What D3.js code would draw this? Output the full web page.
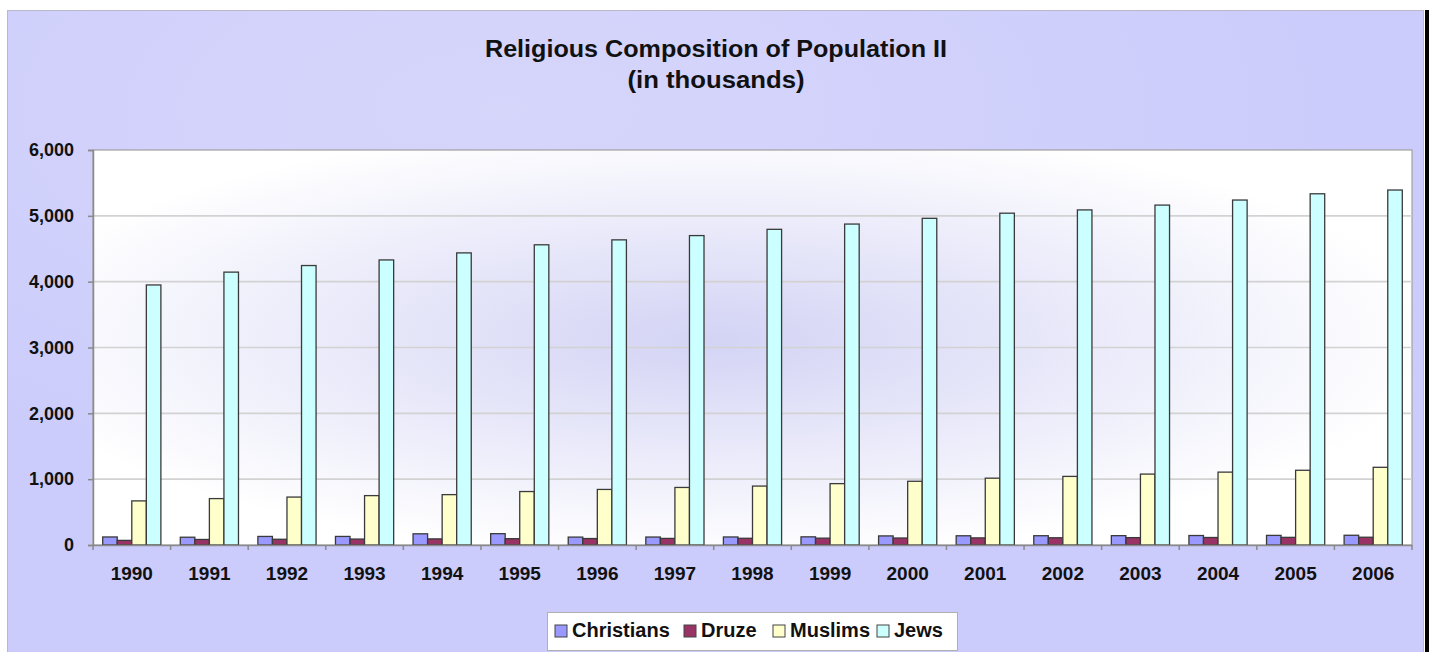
<!DOCTYPE html>
<html>
<head>
<meta charset="utf-8">
<script src="https://cdn.jsdelivr.net/npm/d3@7"></script>
<style>
html,body{margin:0;padding:0;background:#fff;}
svg{display:block;font-family:"Liberation Sans",Arial,sans-serif;}
</style>
</head>
<body>
<svg id="chart" width="1437" height="652"></svg>
<script>
const years = ["1990","1991","1992","1993","1994","1995","1996","1997","1998","1999","2000","2001","2002","2003","2004","2005","2006"];
const seriesNames = ["Christians","Druze","Muslims","Jews"];
const christians = [122,118,130,130,170,172,120,121,122,124,138,140,141,142,144,146,148];
const druze = [70,84,87,90,93,96,98,100,102,104,106,108,110,112,114,116,118];
const muslims = [670,705,728,750,765,812,844,874,895,932,968,1015,1042,1077,1107,1135,1180];
const jews = [3950,4145,4245,4330,4437,4560,4635,4700,4795,4875,4962,5040,5090,5163,5240,5335,5392];
const yTicks = [0,1000,2000,3000,4000,5000,6000];
const colors = ["#9999FF","#993366","#FFFFCC","#CCFFFF"];

const seriesValues = [christians, druze, muslims, jews];
const data = years.map((y,i)=>({year:y, values: seriesNames.map((s,k)=>({name:s, value:seriesValues[k][i], k:k}))}));

const svg = d3.select("#chart");
const defs = svg.append("defs");
const rg = defs.append("radialGradient").attr("id","plotGrad")
  .attr("cx","0.47").attr("cy","0.48").attr("r","0.55").attr("fx","0.47").attr("fy","0.48");
rg.append("stop").attr("offset","0%").attr("stop-color","#d3d3f5");
rg.append("stop").attr("offset","100%").attr("stop-color","#ffffff");
const pg = defs.append("radialGradient").attr("id","panelGrad")
  .attr("cx","0.35").attr("cy","0.15").attr("r","0.6");
pg.append("stop").attr("offset","0%").attr("stop-color","#d6d6fb");
pg.append("stop").attr("offset","100%").attr("stop-color","#ccccfc");

// outer panel
svg.append("rect").attr("x",7.5).attr("y",10.5).attr("width",1416).attr("height",660)
  .attr("fill","url(#panelGrad)").attr("stroke","#b8b8c8").attr("stroke-width",1);
svg.append("rect").attr("x",1425).attr("y",10).attr("width",4).attr("height",642).attr("fill","#000");

const margin = {left:93, top:150, right:1412, bottom:545};

const x0 = d3.scaleBand().domain(years).range([margin.left, margin.right]).paddingInner(0.25).paddingOuter(0.125);
const x1 = d3.scaleBand().domain(seriesNames).range([0, x0.bandwidth()]);
const y = d3.scaleLinear().domain([0,6000]).range([margin.bottom, margin.top]);

// plot area
svg.append("rect").attr("x",margin.left).attr("y",margin.top)
  .attr("width",margin.right-margin.left).attr("height",margin.bottom-margin.top)
  .attr("fill","url(#plotGrad)").attr("stroke","#a0a0a0").attr("stroke-width",1.2);

// gridlines
svg.append("g").selectAll("line").data(yTicks.filter(t=>t>0 && t<6000)).join("line")
  .attr("x1",margin.left).attr("x2",margin.right)
  .attr("y1",d=>y(d)).attr("y2",d=>y(d))
  .attr("stroke","#d2d2d2").attr("stroke-width",1.6);

// bars
const groups = svg.append("g").selectAll("g").data(data).join("g")
  .attr("transform",d=>`translate(${x0(d.year)},0)`);
groups.selectAll("rect").data(d=>d.values).join("rect")
  .attr("x",d=>x1(d.name)).attr("width",x1.bandwidth())
  .attr("y",d=>y(d.value)).attr("height",d=>y(0)-y(d.value))
  .attr("fill",d=>colors[d.k]).attr("stroke","#3a3a3a").attr("stroke-width",1.3);

// y axis
const yAxis = d3.axisLeft(y).tickValues(yTicks).tickFormat(d3.format(",")).tickSize(5).tickPadding(14);
const gy = svg.append("g").attr("transform",`translate(${margin.left},0)`).call(yAxis);
gy.select(".domain").attr("stroke","#8a8a8a").attr("stroke-width",1.5);
gy.selectAll(".tick line").attr("stroke","#8a8a8a").attr("stroke-width",1.5);
gy.selectAll(".tick text").attr("font-size","18px").attr("font-weight","bold").attr("fill","#111")
  .attr("font-family","Liberation Sans, Arial, sans-serif");

// x axis
const xAxis = d3.axisBottom(x0).tickSize(0).tickPadding(22);
const gx = svg.append("g").attr("transform",`translate(0,${margin.bottom})`).call(xAxis);
gx.select(".domain").attr("stroke","#8a8a8a").attr("stroke-width",1.5);
gx.selectAll(".tick text").attr("font-size","19px").attr("font-weight","bold").attr("fill","#111")
  .attr("font-family","Liberation Sans, Arial, sans-serif");
// category boundary ticks
const bounds = years.map(yr=>x0(yr)-x0.step()*x0.paddingInner()/2).concat([margin.right]);
svg.append("g").selectAll("line").data(bounds).join("line")
  .attr("x1",d=>d).attr("x2",d=>d).attr("y1",margin.bottom).attr("y2",margin.bottom+5)
  .attr("stroke","#8a8a8a").attr("stroke-width",1.5);

// title
svg.append("text").attr("x",716).attr("y",57).attr("text-anchor","middle")
  .attr("font-size","23px").attr("font-weight","bold").attr("fill","#111")
  .attr("textLength",462).attr("lengthAdjust","spacingAndGlyphs")
  .text("Religious Composition of Population II");
svg.append("text").attr("x",716).attr("y",88).attr("text-anchor","middle")
  .attr("font-size","23px").attr("font-weight","bold").attr("fill","#111")
  .attr("textLength",177).attr("lengthAdjust","spacingAndGlyphs")
  .text("(in thousands)");

// legend
const lg = svg.append("g");
lg.append("rect").attr("x",547.5).attr("y",612.5).attr("width",410).attr("height",38)
  .attr("fill","#fff").attr("stroke","#b0b0b0").attr("stroke-width",1);
const legX = [555, 684, 773, 877];
const items = lg.selectAll("g.item").data(seriesNames).join("g").attr("class","item")
  .attr("transform",(d,i)=>`translate(${legX[i]},0)`);
items.append("rect").attr("x",0).attr("y",625).attr("width",12).attr("height",12)
  .attr("fill",(d,i)=>colors[i]).attr("stroke","#444").attr("stroke-width",1);
items.append("text").attr("x",17).attr("y",637).attr("font-size","20px").attr("font-weight","bold")
  .attr("fill","#111").text(d=>d);
</script>
</body>
</html>
